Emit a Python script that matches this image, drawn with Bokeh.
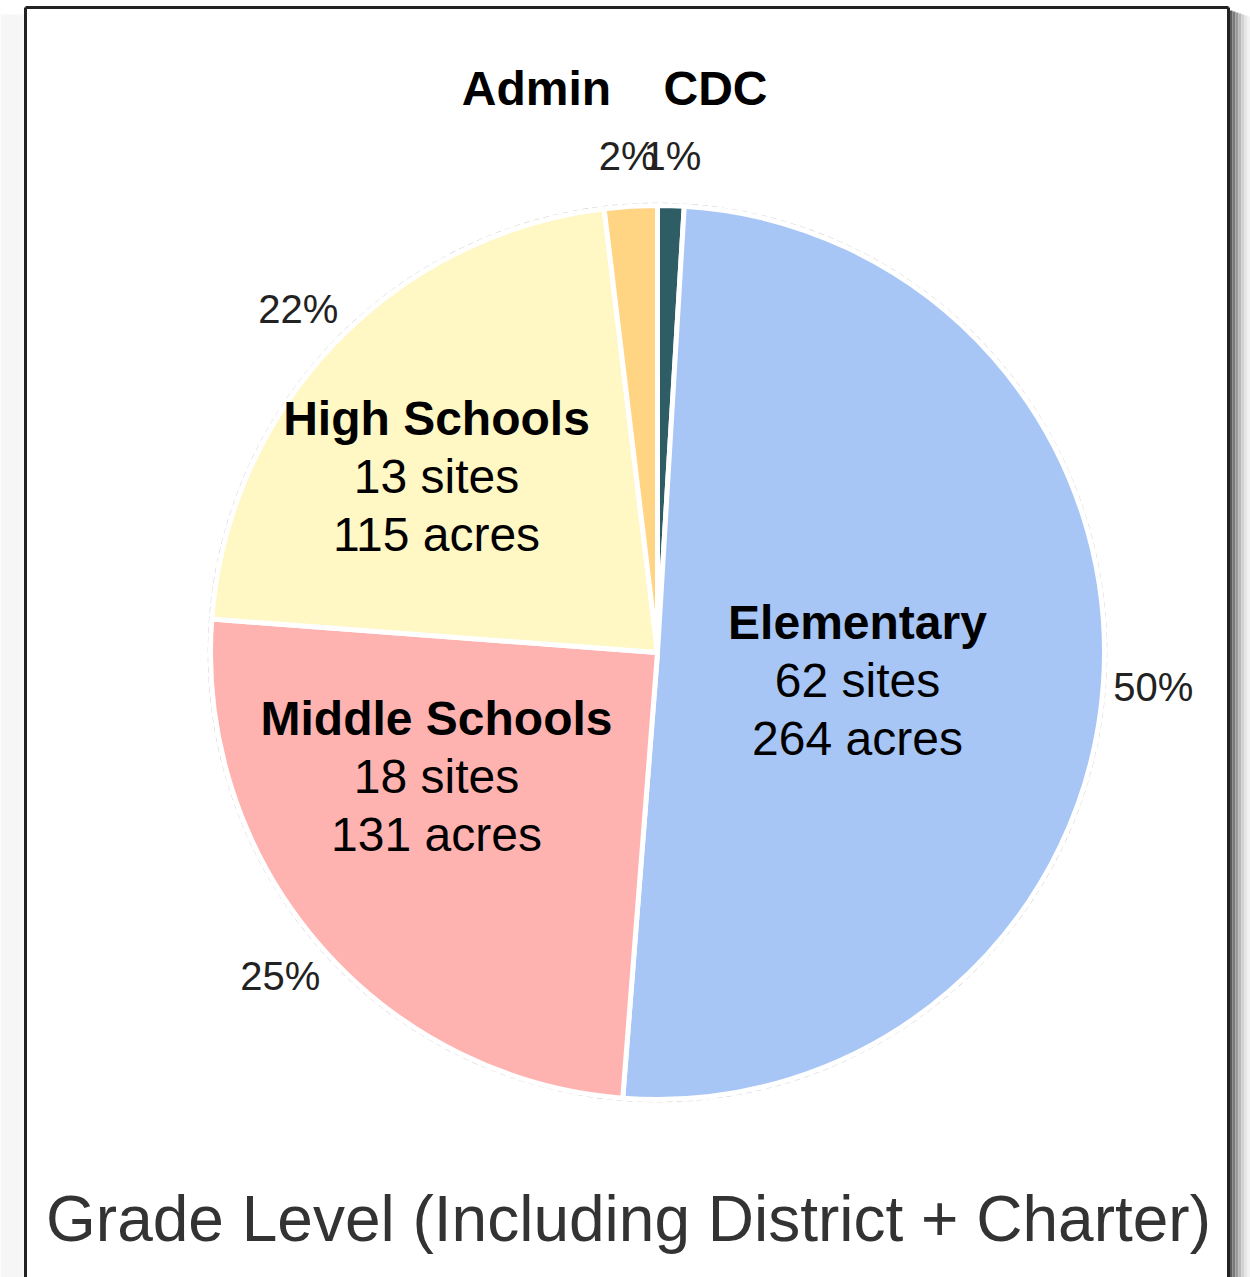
import math
from bokeh.plotting import figure
from bokeh.models import Range1d, ColumnDataSource
from bokeh.embed import file_html
from bokeh.resources import INLINE
from bokeh.core.properties import value

# ---- data ----
categories = ["CDC", "Elementary", "Middle Schools", "High Schools", "Admin"]
acres = [5, 264, 131, 115, 10]
sites = [None, 62, 18, 13, None]
percent_labels = ["1%", "50%", "25%", "22%", "2%"]
colors = ["#2e5d66", "#a7c6f5", "#ffb3b0", "#fff7c4", "#ffd584"]
title_text = "Grade Level (Including District + Charter)"

# ---- layout ----
W, H = 1250, 1277
FONT = value("Liberation Sans")


def X(px):
    return px


def Y(py):
    return H - py


p = figure(width=W, height=H, x_range=Range1d(0, W), y_range=Range1d(0, H),
           output_backend="svg", toolbar_location=None, min_border=0,
           x_axis_location=None, y_axis_location=None)
p.grid.visible = False
p.outline_line_color = None
p.background_fill_color = "white"
p.border_fill_color = "white"

# frame shadow (right side)
shadow = ["#5a5a5a", "#7a7a7a", "#9a9a9a", "#b8b8b8", "#d2d2d2", "#e6e6e6", "#f3f3f3"]
for i, c in enumerate(shadow):
    p.quad(left=X(1229 + i * 3), right=X(1232 + i * 3), bottom=0, top=Y(10 + i),
           fill_color=c, line_color=None)
# left faint shadow
p.quad(left=X(0), right=X(23), bottom=0, top=Y(14), fill_color="#f6f6f6", line_color=None)
# frame
p.segment(x0=[X(25), X(25), X(1228)], y0=[Y(7), Y(7), Y(7)],
          x1=[X(1228), X(25), X(1228)], y1=[Y(7), 0, 0],
          line_color="#222222", line_width=3)

# ---- pie ----
cx, cy, r = X(657), Y(652), 447
total = float(sum(acres))
starts, ends, mids = [], [], []
cum = 0.0
for a in acres:
    f0 = cum / total
    cum += a
    f1 = cum / total
    starts.append(math.pi / 2 - 2 * math.pi * f0)
    ends.append(math.pi / 2 - 2 * math.pi * f1)
    mids.append(2 * math.pi * (f0 + f1) / 2)

src = ColumnDataSource(dict(start=starts, end=ends, color=colors, cat=categories))
p.circle(x=cx, y=cy, radius=r + 2, fill_color=None, line_color="#b0b0b0",
         line_dash="6 4", line_width=1.5, line_alpha=0.7)
p.wedge(x=cx, y=cy, radius=r, start_angle="start", end_angle="end", direction="clock",
        fill_color="color", line_color="white", line_width=5, source=src)

# percent labels outside
lr = 497
p.text(x=[cx + lr * math.sin(m) for m in mids], y=[cy + lr * math.cos(m) for m in mids],
       text=percent_labels, text_align="center", text_baseline="middle",
       text_font=FONT, text_font_size="40px", text_color="#222222")

# category labels
bold_lab = ["Admin", "CDC", "High Schools", "Middle Schools", "Elementary"]
bold_pos = [(536, 88), (715, 88), (436, 418), (436, 718), (857, 622)]
p.text(x=[X(a) for a, b in bold_pos], y=[Y(b) for a, b in bold_pos], text=bold_lab,
       text_align="center", text_baseline="middle", text_font=FONT,
       text_font_size="48px", text_font_style="bold", text_color="black")

reg_lab, reg_pos = [], []
for name, s, a, pos in [("High Schools", sites[3], acres[3], (436, 418)),
                        ("Middle Schools", sites[2], acres[2], (436, 718)),
                        ("Elementary", sites[1], acres[1], (857, 622))]:
    reg_lab += [f"{s} sites", f"{a} acres"]
    reg_pos += [(pos[0], pos[1] + 58), (pos[0], pos[1] + 116)]
p.text(x=[X(a) for a, b in reg_pos], y=[Y(b) for a, b in reg_pos], text=reg_lab,
       text_align="center", text_baseline="middle", text_font=FONT,
       text_font_size="48px", text_color="black")

# title
p.text(x=[X(628)], y=[Y(1218)], text=[title_text], text_align="center",
       text_baseline="middle", text_font=FONT, text_font_size="64px", text_color="#333333")

open("out.html", "w").write(file_html(p, INLINE))
